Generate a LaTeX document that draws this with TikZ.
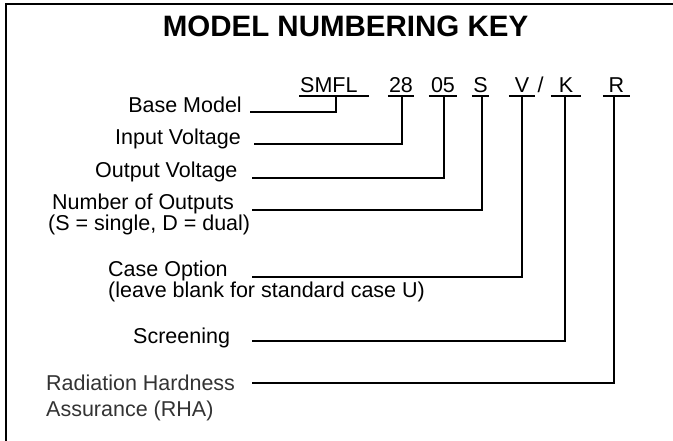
\documentclass[tikz,border=0pt]{standalone}
\usepackage{fontspec}
\setmainfont{Liberation Sans}
\begin{document}
\begin{tikzpicture}[x=1pt,y=-1pt,
  lbl/.style={inner sep=0pt,font=\fontsize{21.5}{19}\selectfont},
  code/.style={inner sep=0pt,font=\fontsize{21.5}{16}\selectfont,text depth=3pt,anchor=south},
  conn/.style={line width=2pt,line cap=rect},
  uline/.style={line width=2pt}]
\useasboundingbox (0,0) rectangle (673,441);
\draw[line width=2pt] (6,441) -- (6,4) -- (673,4);
\node[inner sep=0pt,anchor=base,font=\fontsize{29.5}{30}\selectfont\bfseries] (title) at (345.5,37) {MODEL NUMBERING KEY};
% codes
\node[code,minimum width=70pt,text width=70pt,align=left,anchor=south west] (smfl) at (299,96) {\hspace*{1pt}SMFL};
\node[code,minimum width=26pt] (c28) at (401,96) {28};
\node[code,minimum width=28pt] (c05) at (443,96) {05};
\node[code,minimum width=17pt] (cS) at (480.5,96) {S};
\node[code,minimum width=26pt] (cV) at (522,96) {V};
\node[code] (slash) at (540.5,96) {/};
\node[code,minimum width=30pt] (cK) at (566,96) {K};
\node[code,minimum width=27pt] (cR) at (616.5,96) {R};
\foreach \n in {smfl,c28,c05,cS,cV,cK,cR}{\draw[uline] (\n.south west) -- (\n.south east);}
% labels
\node[lbl,anchor=base east] (bm) at (242,113) {Base Model};
\node[lbl,anchor=base west] (iv) at (115,145) {Input Voltage};
\node[lbl,anchor=base west] (ov) at (95,178) {Output Voltage};
\node[lbl,anchor=base west,align=left] (no) at (48,231) {\hspace*{4pt}Number of Outputs\\(S = single, D = dual)};
\node[lbl,anchor=base west,align=left] (co) at (108,298) {Case Option\\(leave blank for standard case U)};
\node[lbl,anchor=base west] (sc) at (133,344) {Screening};
\node[lbl,anchor=base west,align=left,font=\fontsize{21.5}{26}\selectfont,text=black!80] (rh) at (46,416) {Radiation Hardness\\Assurance (RHA)};
% connector start points
\coordinate (pbm) at (251,112);
\coordinate (piv) at (255,144);
\coordinate (pov) at (253,178);
\coordinate (pno) at (253,210);
\coordinate (pco) at (253,277);
\coordinate (psc) at (253,341);
\coordinate (prh) at (253,383);
\draw[conn] (pbm) -| ([xshift=2pt]smfl.south);
\draw[conn] (piv) -| ([xshift=1pt]c28.south);
\draw[conn] (pov) -| ([xshift=1pt]c05.south);
\draw[conn] (pno) -| ([xshift=1.5pt]cS.south);
\draw[conn] (pco) -| (cV.south);
\draw[conn] (psc) -| ([xshift=-1pt]cK.south);
\draw[conn] (prh) -| ([xshift=-2.5pt]cR.south);
\end{tikzpicture}
\end{document}
